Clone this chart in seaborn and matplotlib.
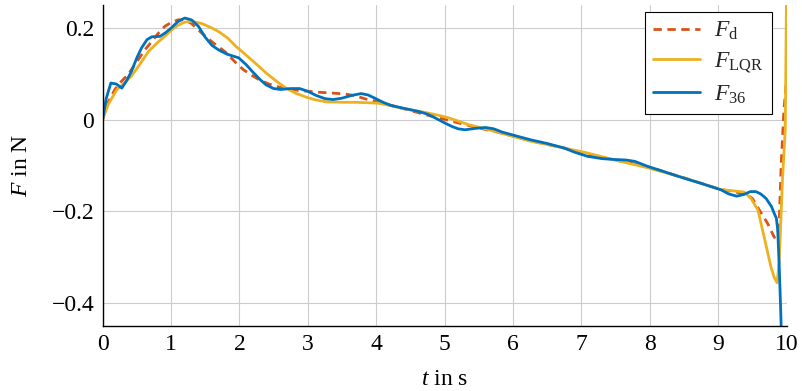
import matplotlib
matplotlib.use("Agg")
import matplotlib.pyplot as plt
import matplotlib.ticker as mticker
import seaborn as sns

# Desired force F_d (dashed)
t_d = [0.0, 0.05, 0.18, 0.25, 0.37, 0.52, 0.62, 0.72, 0.81, 0.91, 1.0, 1.1, 1.2, 1.3,
       1.4, 1.5, 1.65, 1.8, 1.95, 2.06, 2.18, 2.29, 2.43, 2.58, 2.75, 2.93, 3.15,
       3.37, 3.55, 3.7, 3.85, 4.0, 4.2, 4.4, 4.55, 4.77, 5.0, 5.2, 5.5, 5.8, 6.26,
       6.75, 7.1, 7.5, 8.0, 8.5, 9.0, 9.25, 9.4, 9.5, 9.6, 9.72, 9.82, 9.86, 9.89,
       9.92, 9.96, 10.0]
f_d = [0.0, 0.03, 0.066, 0.08, 0.098, 0.131, 0.153, 0.171, 0.188, 0.204, 0.212, 0.218,
       0.218, 0.21, 0.196, 0.182, 0.164, 0.147, 0.124, 0.109, 0.097, 0.087, 0.078,
       0.071, 0.066, 0.063, 0.06, 0.058, 0.056, 0.052, 0.045, 0.04, 0.032, 0.024,
       0.018, 0.009, 0.001, -0.007, -0.018, -0.028, -0.046, -0.062, -0.077, -0.088,
       -0.104, -0.127, -0.151, -0.158, -0.162, -0.172, -0.197, -0.226, -0.257,
       -0.252, -0.233, -0.1, 0.02, 0.09]

# LQR force F_LQR
t_lqr = [0.0, 0.08, 0.21, 0.3, 0.42, 0.55, 0.67, 0.8, 0.91, 1.0, 1.1, 1.2, 1.3, 1.45,
         1.6, 1.7, 1.83, 1.95, 2.09, 2.25, 2.39, 2.55, 2.68, 2.82, 2.98, 3.12, 3.27,
         3.5, 3.7, 4.03, 4.2, 4.37, 4.55, 4.71, 4.9, 5.06, 5.2, 5.35, 5.6, 5.84, 6.26,
         6.75, 7.04, 7.49, 7.97, 8.5, 9.04, 9.2, 9.38, 9.48, 9.58, 9.67, 9.77, 9.82,
         9.86, 9.89, 9.94, 9.98, 10.0]
f_lqr = [0.0, 0.033, 0.066, 0.078, 0.095, 0.122, 0.149, 0.168, 0.182, 0.195, 0.206,
         0.213, 0.215, 0.21, 0.2, 0.192, 0.178, 0.16, 0.142, 0.121, 0.102, 0.083,
         0.069, 0.058, 0.049, 0.043, 0.039, 0.038, 0.038, 0.036, 0.031, 0.025, 0.02,
         0.016, 0.01, 0.004, -0.003, -0.011, -0.02, -0.03, -0.047, -0.062, -0.071,
         -0.088, -0.105, -0.127, -0.153, -0.155, -0.158, -0.172, -0.197, -0.255,
         -0.321, -0.345, -0.356, -0.313, -0.13, -0.022, 0.3]

# Force of controller 36, F_36
t_36 = [0.0, 0.05, 0.12, 0.2, 0.28, 0.35, 0.42, 0.5, 0.57, 0.65, 0.72, 0.84, 0.92, 1.0,
        1.1, 1.2, 1.3, 1.4, 1.5, 1.6, 1.7, 1.82, 1.99, 2.1, 2.19, 2.3, 2.39, 2.5, 2.6,
        2.75, 2.88, 3.0, 3.12, 3.25, 3.37, 3.5, 3.64, 3.78, 3.88, 3.98, 4.1, 4.22,
        4.4, 4.62, 4.75, 4.86, 5.0, 5.11, 5.2, 5.3, 5.45, 5.6, 5.72, 5.84, 6.06, 6.26,
        6.5, 6.75, 6.9, 7.09, 7.3, 7.49, 7.65, 7.78, 7.97, 8.2, 8.36, 8.55, 8.75, 9.04,
        9.15, 9.27, 9.38, 9.47, 9.55, 9.62, 9.7, 9.78, 9.82, 9.85, 9.87, 9.89, 9.91,
        9.93, 9.96]
f_36 = [0.0, 0.045, 0.08, 0.078, 0.069, 0.085, 0.105, 0.135, 0.157, 0.175, 0.181, 0.182,
        0.19, 0.2, 0.214, 0.222, 0.218, 0.204, 0.18, 0.162, 0.152, 0.143, 0.135, 0.12,
        0.105, 0.088, 0.076, 0.068, 0.066, 0.068, 0.068, 0.062, 0.053, 0.046, 0.044,
        0.047, 0.053, 0.057, 0.054, 0.047, 0.038, 0.031, 0.025, 0.018, 0.012, 0.004,
        -0.007, -0.015, -0.02, -0.022, -0.019, -0.017, -0.02, -0.027, -0.036, -0.044,
        -0.052, -0.062, -0.071, -0.08, -0.085, -0.087, -0.088, -0.091, -0.102, -0.113,
        -0.121, -0.13, -0.139, -0.153, -0.162, -0.167, -0.163, -0.157, -0.157, -0.162,
        -0.172, -0.19, -0.205, -0.215, -0.241, -0.313, -0.4, -0.5, -0.62]

series_labels = [r"$F_{\mathrm{d}}$", r"$F_{\mathrm{LQR}}$", r"$F_{36}$"]
series_colors = ["#D95319", "#EDB120", "#0072BD"]
x_ticks = [0, 1, 2, 3, 4, 5, 6, 7, 8, 9, 10]
y_ticks = [-0.4, -0.2, 0.0, 0.2]

sns.set_theme(style="whitegrid")
plt.rcParams.update({
    "font.family": ["Liberation Serif", "DejaVu Serif"],
    "mathtext.fontset": "custom",
    "mathtext.rm": "Liberation Serif",
    "mathtext.it": "Liberation Serif:italic",
    "mathtext.bf": "Liberation Serif:bold",
    "axes.unicode_minus": True,
})

fig = plt.figure(figsize=(8.03, 3.91), dpi=100)
ax = fig.add_axes([0.1278, 0.1668, 0.8518, 0.8199])

lw = 2.0
sns.lineplot(x=t_d, y=f_d, ax=ax, color=series_colors[0], lw=lw, sort=False,
             estimator=None, linestyle=(0, (3, 2)), label=series_labels[0])
sns.lineplot(x=t_lqr, y=f_lqr, ax=ax, color=series_colors[1], lw=lw, sort=False,
             estimator=None, label=series_labels[1])
sns.lineplot(x=t_36, y=f_36, ax=ax, color=series_colors[2], lw=lw, sort=False,
             estimator=None, label=series_labels[2])

ax.set_xlim(0, 10)
ax.set_ylim(-0.45, 0.25)
ax.set_xticks(x_ticks)
ax.set_yticks(y_ticks)


def fmt(v, _pos):
    s = f"{v:g}"
    return s.replace("-", "\u2212")


ax.xaxis.set_major_formatter(mticker.FuncFormatter(fmt))
ax.yaxis.set_major_formatter(mticker.FuncFormatter(fmt))

ax.grid(True, color="#cccccc", lw=0.8)
ax.set_axisbelow(True)
for side in ("top", "right"):
    ax.spines[side].set_visible(False)
for side in ("left", "bottom"):
    ax.spines[side].set_color("black")
    ax.spines[side].set_linewidth(1.0)

ax.tick_params(axis="both", direction="in", length=4, width=0.8, color="#808080",
               labelsize=17, labelcolor="black")
ax.tick_params(axis="x", pad=6)
ax.tick_params(axis="y", pad=6)

ax.set_xlabel(r"$t$ in s", fontsize=17, color="black", labelpad=10)
ax.set_ylabel(r"$F$ in N", fontsize=17, color="black", labelpad=14)

leg = ax.legend(loc="upper right", bbox_to_anchor=(0.9787, 0.979), borderaxespad=0,
                frameon=True, fancybox=False, edgecolor="black", framealpha=1,
                fontsize=17, handlelength=2.0, labelspacing=0.35, borderpad=0.35,
                handletextpad=0.6)
leg.get_frame().set_linewidth(0.8)

fig.savefig("out.png", dpi=100)
